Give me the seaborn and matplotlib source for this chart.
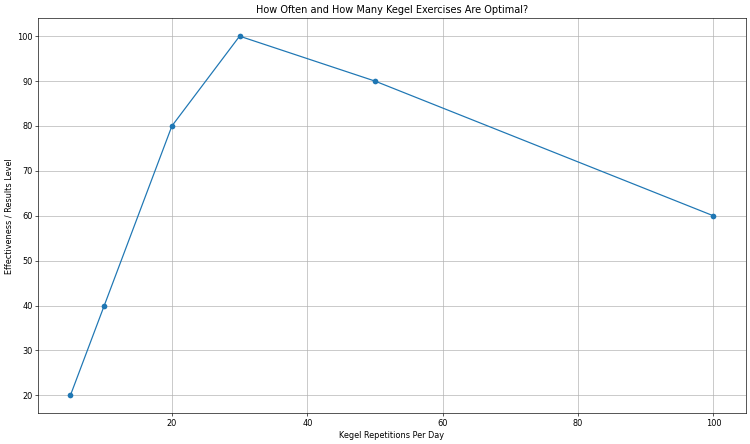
import matplotlib
matplotlib.use("Agg")
import matplotlib.pyplot as plt
import seaborn as sns
import pandas as pd

reps = [5, 10, 20, 30, 50, 100]
effectiveness = [20, 40, 80, 100, 90, 60]

df = pd.DataFrame({"reps": reps, "eff": effectiveness})

DPI = 750 / 12.8
fig, ax = plt.subplots(figsize=(12.8, 444 / DPI), dpi=DPI)
sns.lineplot(data=df, x="reps", y="eff", marker="o", markeredgewidth=0,
             color="#1f77b4", ax=ax, markersize=7)
ax.set_title("How Often and How Many Kegel Exercises Are Optimal?")
ax.set_xlabel("Kegel Repetitions Per Day")
ax.set_ylabel("Effectiveness / Results Level")
ax.grid(True)
fig.subplots_adjust(left=0.051, right=0.994, bottom=0.069, top=0.959)
fig.savefig("out.png", dpi=DPI)
